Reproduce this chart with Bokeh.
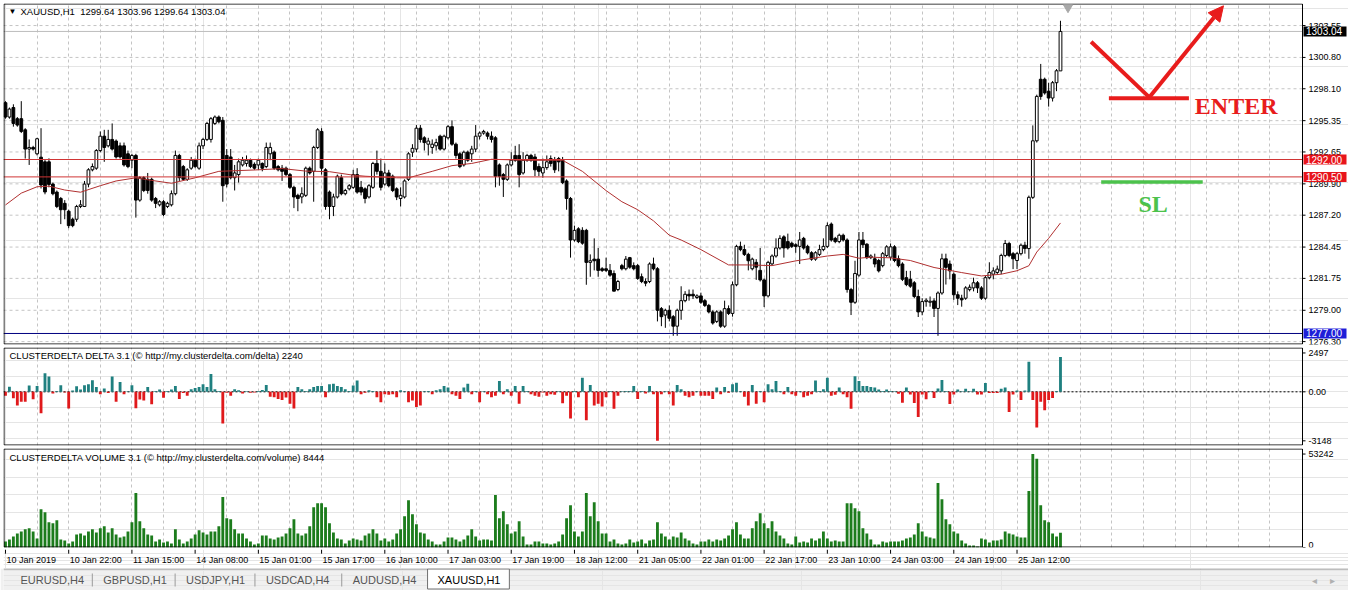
from bokeh.plotting import figure
from bokeh.layouts import column
from bokeh.models import (Range1d, FixedTicker, Label, Arrow, NormalHead,
                          ColumnDataSource, Grid)
from bokeh.embed import file_html
from bokeh.resources import INLINE
from bokeh.core.properties import value

# ---------------- data ----------------
main_title = "XAUUSD,H1\u00a0\u00a01299.64 1303.96 1299.64 1303.04"
delta_title = "CLUSTERDELTA DELTA 3.1 (\u00a9 http://my.clusterdelta.com/delta) 2240"
volume_title = "CLUSTERDELTA VOLUME 3.1 (\u00a9 http://my.clusterdelta.com/volume) 8444"

opens = [
    1296.90, 1295.66, 1296.48, 1295.52, 1295.52, 1294.56, 1292.90, 1293.04, 1292.49, 1292.20,
    1291.80, 1291.80, 1289.88, 1289.19, 1288.64, 1288.22, 1287.54, 1286.85, 1286.85, 1287.95,
    1287.95, 1289.88, 1291.11, 1291.25, 1292.77, 1294.01, 1293.18, 1293.73, 1293.59, 1293.18,
    1293.18, 1292.49, 1291.94, 1292.35, 1288.50, 1290.43, 1290.29, 1290.29, 1288.64, 1288.09,
    1288.36, 1287.95, 1288.09, 1289.05, 1292.35, 1291.39, 1290.29, 1291.25, 1291.94, 1291.25,
    1293.18, 1293.73, 1293.73, 1295.11, 1295.66, 1295.38, 1292.35, 1292.22, 1290.43, 1290.70,
    1291.53, 1291.66, 1291.94, 1291.58, 1291.53, 1291.66, 1291.39, 1292.49, 1292.63, 1291.39,
    1291.25, 1291.25, 1290.70, 1289.60, 1288.91, 1288.77, 1288.91, 1291.25, 1290.98, 1293.04,
    1294.42, 1291.11, 1289.19, 1287.95, 1288.77, 1290.43, 1289.05, 1289.47, 1289.60, 1290.70,
    1289.60, 1289.47, 1288.77, 1289.60, 1291.66, 1290.98, 1289.88, 1290.84, 1290.56, 1289.47,
    1288.64, 1288.77, 1290.29, 1292.63, 1292.90, 1294.70, 1293.87, 1293.32, 1293.04, 1293.18,
    1294.01, 1292.90, 1293.87, 1294.83, 1293.32, 1292.49, 1291.53, 1292.63, 1292.49, 1292.90,
    1294.01, 1294.28, 1294.28, 1294.01, 1293.87, 1291.53, 1290.70, 1290.29, 1291.53, 1292.35,
    1292.35, 1290.84, 1291.94, 1292.35, 1292.22, 1291.39, 1290.84, 1291.30, 1292.08, 1291.94,
    1292.08, 1291.94, 1290.15, 1288.64, 1285.06, 1286.02, 1285.89, 1285.89, 1283.13, 1283.41,
    1283.41, 1282.58, 1282.58, 1282.44, 1282.17, 1280.79, 1282.85, 1282.58, 1283.54, 1282.85,
    1282.85, 1281.89, 1281.48, 1281.48, 1282.99, 1282.58, 1279.14, 1278.59, 1279.00, 1278.45,
    1277.63, 1279.00, 1279.83, 1280.38, 1280.38, 1280.10, 1280.24, 1279.83, 1279.42, 1278.86,
    1278.04, 1278.86, 1277.63, 1279.14, 1278.73, 1281.20, 1284.51, 1284.23, 1283.82, 1282.58,
    1283.13, 1282.44, 1281.62, 1280.24, 1283.00, 1283.68, 1284.37, 1285.33, 1284.92, 1284.78,
    1284.65, 1284.51, 1285.20, 1284.51, 1283.96, 1283.41, 1283.82, 1284.23, 1284.51, 1286.43,
    1285.20, 1284.92, 1285.47, 1285.06, 1280.79, 1279.69, 1282.03, 1285.06, 1284.70, 1283.54,
    1283.44, 1283.29, 1282.85, 1283.73, 1283.58, 1284.47, 1283.44, 1282.99, 1281.81, 1281.67,
    1281.37, 1280.19, 1278.86, 1279.75, 1279.69, 1279.81, 1279.16, 1280.49, 1283.44, 1282.99,
    1282.11, 1280.34, 1280.04, 1280.04, 1280.78, 1280.93, 1281.37, 1280.93, 1280.04, 1281.81,
    1282.11, 1282.26, 1282.40, 1283.73, 1284.76, 1283.88, 1283.29, 1283.88, 1284.61, 1284.32,
    1288.74, 1293.61, 1298.92, 1298.92, 1297.89, 1297.30, 1298.62, 1299.64,
]
highs = [
    1297.03, 1296.48, 1296.76, 1295.66, 1297.03, 1294.70, 1293.73, 1293.18, 1293.87, 1294.70,
    1292.00, 1292.10, 1290.01, 1289.33, 1288.77, 1288.50, 1287.67, 1286.99, 1288.09, 1288.50,
    1290.15, 1291.25, 1291.66, 1292.90, 1294.42, 1294.56, 1294.56, 1295.11, 1293.73, 1293.46,
    1293.46, 1292.77, 1292.49, 1292.49, 1290.56, 1290.56, 1290.84, 1290.43, 1288.77, 1288.50,
    1288.50, 1288.36, 1289.33, 1292.77, 1292.49, 1291.53, 1291.25, 1292.22, 1292.08, 1293.46,
    1293.87, 1295.25, 1295.66, 1295.80, 1295.80, 1295.66, 1292.90, 1292.90, 1291.53, 1292.08,
    1292.22, 1292.35, 1292.08, 1291.75, 1292.08, 1291.75, 1293.46, 1293.46, 1292.77, 1291.53,
    1291.53, 1291.39, 1290.84, 1289.74, 1289.05, 1289.60, 1291.39, 1291.39, 1293.18, 1294.70,
    1294.70, 1291.25, 1289.33, 1289.05, 1290.70, 1290.70, 1289.47, 1289.88, 1291.11, 1291.25,
    1290.15, 1289.60, 1289.88, 1291.80, 1292.77, 1292.08, 1291.66, 1291.11, 1290.70, 1289.60,
    1289.60, 1290.29, 1292.63, 1293.32, 1294.97, 1294.97, 1294.01, 1293.87, 1293.73, 1293.79,
    1294.14, 1294.14, 1294.97, 1295.38, 1293.46, 1292.63, 1292.77, 1292.77, 1293.18, 1294.97,
    1294.42, 1294.56, 1294.42, 1294.42, 1294.01, 1291.66, 1290.84, 1291.66, 1292.63, 1293.18,
    1293.32, 1292.63, 1292.49, 1292.49, 1292.49, 1291.66, 1292.08, 1292.35, 1292.35, 1292.22,
    1292.22, 1292.22, 1290.29, 1288.77, 1286.30, 1286.16, 1286.16, 1286.02, 1283.82, 1285.20,
    1284.37, 1282.72, 1283.54, 1282.99, 1282.44, 1281.62, 1283.00, 1283.68, 1283.60, 1283.13,
    1282.99, 1282.17, 1281.75, 1283.13, 1283.54, 1282.72, 1279.28, 1279.14, 1279.42, 1278.59,
    1279.14, 1281.07, 1280.65, 1280.79, 1280.79, 1280.38, 1280.52, 1279.97, 1279.55, 1279.00,
    1279.00, 1279.00, 1279.83, 1279.42, 1281.48, 1284.65, 1284.92, 1284.65, 1283.96, 1283.54,
    1283.41, 1284.37, 1281.75, 1283.27, 1283.82, 1285.20, 1285.47, 1285.47, 1285.61, 1284.92,
    1284.78, 1285.75, 1285.33, 1284.65, 1284.09, 1284.09, 1284.65, 1285.20, 1286.57, 1286.57,
    1285.33, 1285.61, 1285.61, 1285.20, 1280.93, 1283.27, 1285.75, 1285.75, 1284.78, 1283.82,
    1283.88, 1283.44, 1284.03, 1284.61, 1284.76, 1284.61, 1283.73, 1283.14, 1282.40, 1282.40,
    1281.52, 1280.78, 1280.04, 1280.04, 1280.19, 1280.04, 1280.63, 1283.88, 1283.88, 1283.29,
    1282.26, 1280.63, 1280.34, 1281.08, 1281.22, 1281.81, 1281.52, 1281.08, 1281.96, 1283.14,
    1282.70, 1282.85, 1283.88, 1285.06, 1284.91, 1284.03, 1284.03, 1284.76, 1284.91, 1288.89,
    1294.94, 1297.59, 1300.24, 1299.06, 1298.62, 1298.77, 1299.80, 1303.96,
]
lows = [
    1295.52, 1295.52, 1294.83, 1294.83, 1294.28, 1292.08, 1291.53, 1292.77, 1292.35, 1289.50,
    1289.00, 1289.60, 1288.91, 1287.81, 1286.43, 1286.85, 1286.08, 1286.16, 1286.63, 1287.81,
    1287.90, 1289.60, 1290.98, 1291.11, 1292.63, 1291.80, 1293.04, 1292.77, 1292.08, 1292.08,
    1291.39, 1291.25, 1291.25, 1286.99, 1288.36, 1289.19, 1289.05, 1288.36, 1287.81, 1287.95,
    1287.12, 1287.81, 1287.95, 1288.91, 1290.15, 1290.15, 1290.15, 1291.11, 1291.25, 1291.11,
    1292.90, 1293.59, 1293.46, 1294.97, 1295.11, 1288.36, 1289.60, 1290.29, 1289.33, 1290.01,
    1291.39, 1291.39, 1291.25, 1291.11, 1291.11, 1290.98, 1291.25, 1291.94, 1291.11, 1290.98,
    1290.15, 1290.56, 1289.47, 1287.81, 1287.54, 1288.22, 1288.77, 1290.70, 1288.36, 1292.90,
    1290.70, 1287.67, 1286.85, 1287.12, 1288.64, 1288.91, 1288.91, 1289.33, 1289.47, 1289.05,
    1288.91, 1288.22, 1288.64, 1289.47, 1290.70, 1289.33, 1289.74, 1289.60, 1289.19, 1288.50,
    1287.95, 1288.64, 1290.15, 1292.22, 1292.63, 1293.46, 1292.77, 1292.35, 1292.49, 1292.77,
    1292.77, 1292.77, 1293.73, 1293.18, 1292.08, 1291.25, 1291.39, 1291.80, 1291.80, 1292.63,
    1293.73, 1294.14, 1293.73, 1293.46, 1289.60, 1289.74, 1288.77, 1290.15, 1291.39, 1291.80,
    1289.60, 1290.70, 1291.80, 1291.80, 1290.56, 1290.56, 1290.43, 1291.11, 1291.39, 1290.84,
    1290.98, 1289.88, 1287.67, 1283.54, 1284.92, 1284.79, 1284.65, 1281.20, 1281.89, 1282.44,
    1281.89, 1282.30, 1282.30, 1281.89, 1280.65, 1280.65, 1282.44, 1282.44, 1282.58, 1282.44,
    1281.62, 1281.34, 1281.07, 1281.34, 1282.44, 1278.04, 1277.63, 1277.49, 1278.04, 1276.80,
    1276.80, 1278.18, 1279.69, 1279.83, 1279.97, 1279.97, 1279.55, 1279.28, 1278.73, 1277.76,
    1277.90, 1277.49, 1277.49, 1278.59, 1278.45, 1281.07, 1284.09, 1283.68, 1282.44, 1282.44,
    1281.62, 1281.48, 1279.28, 1280.10, 1282.86, 1283.54, 1284.23, 1283.54, 1284.23, 1284.37,
    1283.96, 1282.99, 1284.23, 1283.82, 1283.27, 1283.27, 1283.68, 1284.09, 1284.37, 1284.92,
    1284.78, 1284.78, 1284.92, 1280.52, 1278.59, 1279.55, 1281.89, 1284.37, 1283.41, 1283.41,
    1282.70, 1282.26, 1282.70, 1283.58, 1283.29, 1283.14, 1282.70, 1281.52, 1281.08, 1280.93,
    1280.04, 1278.42, 1278.57, 1279.31, 1279.31, 1278.42, 1276.80, 1280.34, 1281.22, 1281.67,
    1279.90, 1279.45, 1279.31, 1279.90, 1280.63, 1280.63, 1280.49, 1279.90, 1279.90, 1281.67,
    1281.67, 1282.11, 1282.11, 1283.58, 1283.58, 1282.55, 1282.55, 1283.73, 1283.88, 1283.44,
    1288.60, 1293.46, 1297.15, 1297.59, 1296.56, 1297.00, 1297.89, 1299.64,
]
closes = [
    1295.66, 1296.35, 1295.11, 1294.97, 1294.42, 1292.90, 1293.04, 1292.90, 1293.79, 1289.80,
    1289.20, 1289.85, 1289.05, 1287.95, 1287.67, 1287.67, 1286.30, 1286.30, 1287.95, 1288.09,
    1289.88, 1291.11, 1291.39, 1292.77, 1294.01, 1293.04, 1293.73, 1292.90, 1292.22, 1292.22,
    1291.53, 1291.39, 1292.35, 1288.50, 1290.43, 1289.33, 1289.33, 1288.50, 1288.22, 1288.36,
    1287.26, 1288.22, 1289.05, 1292.35, 1290.43, 1290.29, 1291.11, 1291.94, 1291.39, 1293.18,
    1293.73, 1295.11, 1295.52, 1295.66, 1295.25, 1289.74, 1289.88, 1290.43, 1290.84, 1291.80,
    1291.94, 1291.94, 1291.39, 1291.25, 1291.94, 1291.25, 1293.04, 1293.04, 1291.25, 1291.11,
    1290.98, 1290.70, 1289.60, 1288.77, 1288.64, 1289.05, 1291.25, 1290.84, 1293.04, 1294.56,
    1291.25, 1287.95, 1287.95, 1288.77, 1290.56, 1289.05, 1289.33, 1289.74, 1290.70, 1289.19,
    1289.19, 1288.64, 1289.74, 1291.66, 1290.98, 1289.60, 1290.84, 1289.74, 1289.33, 1288.77,
    1288.91, 1290.15, 1292.49, 1292.96, 1294.70, 1293.73, 1293.46, 1293.59, 1293.32, 1293.46,
    1292.90, 1294.01, 1294.83, 1293.32, 1292.35, 1291.39, 1292.63, 1291.94, 1292.90, 1294.01,
    1294.28, 1294.42, 1294.01, 1293.73, 1290.56, 1290.56, 1290.29, 1291.53, 1291.94, 1291.94,
    1290.70, 1291.94, 1292.35, 1291.94, 1291.11, 1290.98, 1291.30, 1291.80, 1291.66, 1291.11,
    1291.80, 1290.01, 1288.64, 1285.06, 1285.89, 1284.92, 1284.79, 1283.13, 1283.27, 1283.27,
    1282.44, 1282.44, 1282.44, 1282.03, 1280.65, 1281.48, 1282.58, 1283.41, 1282.72, 1282.58,
    1281.75, 1281.48, 1281.34, 1282.99, 1282.58, 1279.00, 1278.45, 1279.00, 1278.31, 1277.63,
    1279.00, 1279.83, 1280.38, 1280.24, 1280.24, 1280.24, 1279.69, 1279.42, 1278.86, 1277.90,
    1278.86, 1277.63, 1279.14, 1278.73, 1281.20, 1284.51, 1284.23, 1283.82, 1283.27, 1283.41,
    1282.72, 1281.62, 1280.24, 1283.13, 1283.68, 1284.37, 1285.20, 1284.37, 1284.37, 1284.51,
    1284.51, 1285.06, 1284.37, 1283.96, 1283.41, 1283.96, 1284.23, 1284.51, 1286.30, 1285.06,
    1284.92, 1285.47, 1285.06, 1280.79, 1279.69, 1282.17, 1285.06, 1284.65, 1283.54, 1283.68,
    1282.99, 1282.40, 1283.88, 1284.47, 1284.47, 1283.29, 1282.85, 1281.67, 1281.22, 1281.08,
    1280.19, 1278.86, 1279.75, 1279.87, 1279.78, 1279.16, 1280.49, 1283.44, 1282.70, 1282.40,
    1280.34, 1280.04, 1279.90, 1280.93, 1280.99, 1281.37, 1280.93, 1280.04, 1281.81, 1282.26,
    1282.40, 1282.55, 1283.73, 1284.76, 1283.73, 1283.44, 1283.88, 1284.61, 1284.32, 1288.74,
    1293.61, 1297.44, 1297.44, 1297.74, 1297.30, 1298.62, 1299.65, 1303.04,
]

# moving average line (knots: bar index, value)
ma_bars = [0, 4, 8, 11, 15, 19, 24, 28, 33, 37, 42, 48, 54, 64, 70, 76, 82, 88, 91, 99,
           102, 108, 113, 118, 123, 132, 141, 146, 152, 156, 160, 164, 168, 171, 176, 183,
           188, 194, 200, 208, 212, 216, 219, 224, 229, 235, 242, 247, 252, 256, 259, 261,
           264, 267]
ma_values = [1288.08, 1289.10, 1289.65, 1289.70, 1289.37, 1289.18, 1289.74, 1290.15, 1290.42,
             1290.20, 1289.95, 1290.42, 1290.98, 1291.11, 1291.22, 1291.00, 1290.95, 1290.65,
             1290.56, 1290.42, 1290.42, 1290.98, 1291.47, 1291.66, 1292.02, 1291.93, 1291.93,
             1290.98, 1289.32, 1288.36, 1287.67, 1286.71, 1285.47, 1285.06, 1284.23, 1282.91,
             1282.91, 1282.85, 1283.26, 1283.68, 1283.82, 1283.49, 1283.58, 1283.52, 1283.29,
             1282.69, 1282.25, 1281.96, 1282.11, 1282.41, 1282.84, 1284.02, 1285.20, 1286.53]

delta = [
    -250, 330, -420, -880, -630, -640, 400, -470, 370, -1380,
    1190, 980, -110, 60, 420, -40, -1070, 80, 360, 150,
    420, 480, 750, 310, -150, 210, -70, 980, -630, 630,
    -150, 40, 420, -1050, -500, -560, 310, -800, 60, 150,
    -380, 50, 150, 380, -460, -80, -250, 170, 250, 310,
    480, 310, 1150, 170, 60, -2030, -60, -250, 170, 100,
    -100, 40, -60, -40, 60, 120, 440, -310, -350, -460,
    -520, -360, -760, -1070, 310, 170, 60, 170, 310, 380,
    380, -350, 480, 520, 380, 310, 170, 60, 400, 730,
    -150, -60, 100, 60, -350, -670, -150, -190, -150, -350,
    100, 40, -670, -560, -980, -880, 40, 60, -150, 100,
    170, 380, 270, -150, -250, -460, 270, 520, -150, 60,
    -670, 40, -150, -350, -250, 690, -150, 170, -250, 380,
    -770, 380, 60, -150, -250, -310, -40, -250, -150, -190,
    40, -730, -250, -1710, 60, -350, 900, -1820, 440, -880,
    -770, -940, -350, 60, -1090, -250, 40, 60, 60, 380,
    -460, 60, -100, 380, -150, -3148, -150, 40, -150, -880,
    440, 170, -250, -350, -250, 40, -250, -250, -250, -460,
    270, -150, 310, -60, 480, 580, 40, -310, -880, 440,
    -770, 60, -670, 480, 170, 690, 60, -150, 310, -150,
    -250, 40, -350, -250, -150, 730, 60, 170, 900, -250,
    -190, 270, -150, -350, -1090, 1000, 690, 380, 380, 310,
    270, 150, 60, 150, 60, 40, -130, -700, 270, -180,
    -720, -1620, -180, -470, 40, -400, 220, 760, 60, -780,
    -180, 150, 40, 200, 40, 200, -180, -180, 560, -70,
    -70, -70, 200, 270, -1300, -180, 90, -520, 90, 1930,
    -520, -2290, -630, -1190, -520, -400, 60, 2240,
]

volume = [
    3440, 4590, 6310, 8040, 9180, 10330, 10910, 9180, 5170, 21810,
    20090, 14350, 13780, 15500, 4590, 4020, 2300, 3440, 7460, 8040,
    6890, 9180, 10330, 8610, 10910, 12050, 8610, 10910, 7460, 5740,
    6310, 9180, 14350, 31000, 14920, 10910, 7460, 6890, 3440, 4590,
    2870, 3440, 2300, 10330, 4590, 2300, 3440, 5170, 7460, 9760,
    8610, 7460, 9180, 9180, 12050, 28700, 16650, 16070, 10330, 8040,
    8040, 5170, 3440, 1720, 2300, 6890, 6890, 5170, 4590, 5740,
    6310, 8040, 10910, 16070, 8040, 6890, 8040, 12050, 22960, 25260,
    25260, 22960, 13780, 8610, 5170, 4590, 2300, 4020, 5170, 4590,
    4020, 6890, 8040, 10330, 8040, 4020, 5170, 3440, 4590, 8040,
    10330, 17790, 26980, 18940, 13200, 8610, 8040, 4590, 3440, 1720,
    1720, 3440, 5740, 5740, 4590, 3440, 4590, 6890, 10330, 6310,
    4020, 4590, 4590, 4020, 29850, 16650, 20660, 13200, 8040, 9180,
    14920, 6310, 1720, 1720, 3440, 3440, 2300, 2300, 1720, 2300,
    3440, 7460, 16650, 24110, 9180, 6310, 9180, 31000, 17790, 25830,
    14920, 8040, 8040, 3440, 4590, 2300, 1720, 2300, 4590, 2870,
    3440, 4590, 2300, 4020, 4590, 14350, 8040, 6310, 4590, 6310,
    5740, 8610, 5170, 4020, 2300, 1720, 3440, 3440, 4590, 3440,
    4590, 4020, 5170, 6890, 10330, 14350, 7460, 5170, 5170, 10910,
    14920, 19520, 13780, 10910, 14920, 9180, 6890, 5170, 2300, 1720,
    6310, 2870, 3440, 2870, 5170, 4020, 5170, 9180, 5170, 3440,
    4020, 3440, 3440, 25260, 25260, 22390, 20660, 10910, 8040, 4590,
    1720, 1720, 3440, 2870, 3440, 3440, 3440, 4020, 5170, 5740,
    7460, 13780, 9180, 6310, 5740, 5170, 36740, 27550, 16070, 13200,
    9180, 8040, 4020, 2300, 1150, 1150, 570, 5170, 4590, 2870,
    4020, 4020, 4590, 9180, 8040, 7460, 6310, 5740, 5740, 32140,
    53242, 50510, 24110, 15500, 14350, 8040, 6310, 8444,
]

price_ticks = [1276.30, 1279.00, 1281.75, 1284.45, 1287.20, 1289.90,
               1292.65, 1295.35, 1298.10, 1300.80, 1303.55]
price_tick_labels = ["1276.30", "1279.00", "1281.75", "1284.45", "1287.20", "1289.90",
                     "1292.65", "1295.35", "1298.10", "1300.80", "1303.55"]
delta_ticks = [-3148, 0, 2497]
delta_tick_labels = ["-3148", "0.00", "2497"]
volume_ticks = [0, 53242]
volume_tick_labels = ["0", "53242"]

time_label_bars = [0, 16, 32, 48, 64, 80, 96, 112, 128, 144, 160, 176, 192, 208, 224, 240, 256]
time_labels = ["10 Jan 2019", "10 Jan 22:00", "11 Jan 15:00", "14 Jan 08:00", "15 Jan 01:00",
               "15 Jan 17:00", "16 Jan 10:00", "17 Jan 03:00", "17 Jan 19:00", "18 Jan 12:00",
               "21 Jan 05:00", "22 Jan 01:00", "22 Jan 17:00", "23 Jan 10:00", "24 Jan 03:00",
               "24 Jan 19:00", "25 Jan 12:00"]
grid_bars = list(range(8, 328, 8))

bid_price = 1303.04
level_prices = [1292.00, 1290.50]
support_price = 1277.00

tab_names = ["EURUSD,H4", "GBPUSD,H1", "USDJPY,H1", "USDCAD,H4", "AUDUSD,H4", "XAUUSD,H1"]

# ---------------- layout / style ----------------
W = 1348
LB, RB = 3, 46
X_START, X_END = -0.5, 328.25
FRAME_W = W - LB              # frame incl. price-scale strip
CHART_W = FRAME_W - RB        # chart area
PPB = CHART_W / (X_END - X_START)
X_FULL = X_START + FRAME_W / PPB
FONT = "Liberation Sans"
GRID_COLOR = "#C4C4C4"
GRID_DASH = "3 3"
RED_LINE = "#D03535"
RED_BOX = "#E8141B"
ARROW_RED = "#E81C1C"
SL_GREEN = "#4CC24C"

xr = Range1d(X_START, X_FULL)


def bars(px):
    return px / PPB


def make_panel(height, y0, y1, top, bottom):
    f = figure(width=W, height=height, x_range=xr, y_range=Range1d(y0, y1),
               output_backend="svg", toolbar_location=None,
               x_axis_location=None, y_axis_location=None,
               min_border_left=LB, min_border_right=0,
               min_border_top=top, min_border_bottom=bottom,
               background_fill_color="white", border_fill_color="white",
               outline_line_color=None)
    f.add_layout(Grid(dimension=0, ticker=FixedTicker(ticks=grid_bars),
                      grid_line_color=GRID_COLOR, grid_line_dash=GRID_DASH))
    return f


def frame_and_scale(f, y0, y1, ppu, ticks, labels, baselines):
    # chart frame (stops at the price-scale strip)
    f.quad(left=[X_START + bars(0.5)], right=[X_END], bottom=[y0 + 0.5 / ppu],
           top=[y1 - 0.5 / ppu], fill_color=None, line_color="black", line_width=1)
    # right scale: tick marks and labels
    f.segment(x0=[X_END] * len(ticks), x1=[X_END + bars(3)] * len(ticks), y0=ticks, y1=ticks,
              line_color="black", line_width=1)
    f.text(x=[X_END + bars(6)] * len(ticks), y=ticks, text=labels,
           text_font=value(FONT), text_font_size="9px", text_color="black",
           text_align="left", text_baseline=baselines)


# ---------------- main price panel ----------------
H_MAIN, MT, MB = 346, 3, 2
P_LO, P_HI = 1276.05, 1305.45
main = make_panel(H_MAIN, P_LO, P_HI, MT, MB)
PPU = (H_MAIN - MT - MB) / (P_HI - P_LO)

# horizontal grid
main.segment(x0=[X_START] * len(price_ticks), x1=[X_END] * len(price_ticks),
             y0=price_ticks, y1=price_ticks, line_color=GRID_COLOR, line_dash=GRID_DASH)

n = min(len(opens), len(highs), len(lows), len(closes))
cs = ColumnDataSource(dict(
    x=list(range(n)),
    high=highs[:n], low=lows[:n],
    top=[max(o, c) for o, c in zip(opens[:n], closes[:n])],
    bottom=[min(o, c) for o, c in zip(opens[:n], closes[:n])],
    fill=["white" if c >= o else "black" for o, c in zip(opens[:n], closes[:n])],
))

main.segment(x0=[X_START], x1=[X_END], y0=[bid_price], y1=[bid_price],
             line_color="#BDBDBD", line_width=1)
main.segment(x0="x", y0="low", x1="x", y1="high", source=cs, line_color="black", line_width=1)
main.vbar(x="x", width=0.7, top="top", bottom="bottom", fill_color="fill",
          line_color="black", line_width=1, source=cs)
main.line(ma_bars, ma_values, line_color="#B03030", line_width=1)

main.segment(x0=[X_START] * 2, x1=[X_END] * 2, y0=level_prices, y1=level_prices,
             line_color=RED_LINE, line_width=1)
main.segment(x0=[X_START], x1=[X_END], y0=[support_price], y1=[support_price],
             line_color="#000080", line_width=1)

frame_and_scale(main, P_LO, P_HI, PPU, price_ticks, price_tick_labels, "middle")

# price boxes on the right scale
box_vals = [bid_price, level_prices[0], level_prices[1], support_price]
box_cols = ["black", RED_BOX, RED_BOX, "#1E1ED8"]
main.quad(left=[X_END + bars(1)] * 4, right=[X_END + bars(44)] * 4,
          bottom=[v - 5 / PPU for v in box_vals], top=[v + 5 / PPU for v in box_vals],
          fill_color=box_cols, line_color=None)
main.text(x=[X_END + bars(3.5)] * 4, y=box_vals, text=[f"{v:.2f}" for v in box_vals],
          text_font=value(FONT), text_font_size="10px", text_color="white",
          text_align="left", text_baseline="middle")

# chart-shift marker
main.scatter([268.9], [P_HI - 4 / PPU], marker="inverted_triangle", size=9,
             fill_color="#A8A8A8", line_color="#A8A8A8")

# drawn trade annotation
main.line([274.75, 289.5], [1302.15, 1297.36], line_color=ARROW_RED, line_width=4)
main.add_layout(Arrow(end=NormalHead(size=15, fill_color=ARROW_RED, line_color=ARROW_RED),
                      x_start=289.5, y_start=1297.36, x_end=308.25, y_end=1305.25,
                      line_color=ARROW_RED, line_width=4))
main.line([279.25, 299.5], [1297.28, 1297.28], line_color=ARROW_RED, line_width=4)
main.text(x=[301.0], y=[1296.62], text=["ENTER"], text_font=value("Liberation Serif"),
          text_font_style="bold", text_font_size="24px", text_color=ARROW_RED,
          text_baseline="alphabetic", text_align="left")
main.line([277.3, 303.0], [1290.07, 1290.07], line_color=SL_GREEN, line_width=3.5)
main.text(x=[286.75], y=[1288.19], text=["SL"], text_font=value("Liberation Serif"),
          text_font_style="bold", text_font_size="24px", text_color=SL_GREEN,
          text_baseline="alphabetic", text_align="left")

# title
main.add_layout(Label(x=X_START + bars(5), y=P_HI - 7.5 / PPU, text="\u25bc",
                      text_font=FONT, text_font_size="8px", text_color="black",
                      text_baseline="middle", text_align="left"))
main.add_layout(Label(x=X_START + bars(17), y=P_HI - 7.5 / PPU, text=main_title,
                      text_font=FONT, text_font_size="9.5px", text_color="black",
                      text_baseline="middle", text_align="left"))

# ---------------- delta panel ----------------
H_D, DT, DB = 101, 1, 2
D_LO, D_HI = -3449, 2848
dp = make_panel(H_D, D_LO, D_HI, DT, DB)
PPU_D = (H_D - DT - DB) / (D_HI - D_LO)
dp.segment(x0=[X_START], x1=[X_END], y0=[0], y1=[0], line_color="black",
           line_width=1, line_dash="2 2")
ds = ColumnDataSource(dict(x=list(range(len(delta))), v=delta,
                           c=["#1F8080" if v >= 0 else "#E0191B" for v in delta]))
dp.vbar(x="x", width=0.72, top="v", bottom=0, fill_color="c", line_color=None, source=ds)
frame_and_scale(dp, D_LO, D_HI, PPU_D, delta_ticks, delta_tick_labels, "middle")
dp.add_layout(Label(x=X_START + bars(6), y=D_HI - 8 / PPU_D, text=delta_title,
                    text_font=FONT, text_font_size="9.5px", text_color="black",
                    text_baseline="middle", text_align="left"))

# ---------------- volume panel ----------------
H_V, VT, VB = 102, 1, 2
V_LO, V_HI = 0, 56400
vp = make_panel(H_V, V_LO, V_HI, VT, VB)
PPU_V = (H_V - VT - VB) / (V_HI - V_LO)
vs = ColumnDataSource(dict(x=list(range(len(volume))), v=volume))
vp.vbar(x="x", width=0.72, top="v", bottom=0, fill_color="#1C7C1C", line_color=None, source=vs)
frame_and_scale(vp, V_LO, V_HI, PPU_V, volume_ticks, volume_tick_labels, ["bottom", "middle"])
vp.add_layout(Label(x=X_START + bars(6), y=V_HI - 9 / PPU_V, text=volume_title,
                    text_font=FONT, text_font_size="9.5px", text_color="black",
                    text_baseline="middle", text_align="left"))

# ---------------- time labels ----------------
xl = figure(width=W, height=19, x_range=xr, y_range=Range1d(0, 1),
            output_backend="svg", toolbar_location=None,
            x_axis_location=None, y_axis_location=None,
            min_border_left=LB, min_border_right=0, min_border_top=0, min_border_bottom=0,
            background_fill_color="white", border_fill_color="white", outline_line_color=None)
xl.segment(x0=time_label_bars, x1=time_label_bars, y0=[1.0] * len(time_label_bars),
           y1=[0.78] * len(time_label_bars), line_color="black", line_width=1)
xl.text(x=time_label_bars, y=[0.45] * len(time_label_bars), text=time_labels,
        text_font=value(FONT), text_font_size="9px", text_color="black",
        text_align="left", text_baseline="middle", x_offset=1)

# ---------------- tab bar ----------------
TAB_H = 22
tab_text_x = [17, 100, 183, 263, 350, 435]
tab_sep_x = [89, 172, 252, 339]
tb = figure(width=W, height=TAB_H, x_range=Range1d(0, W), y_range=Range1d(0, TAB_H),
            output_backend="svg", toolbar_location=None,
            x_axis_location=None, y_axis_location=None, min_border=0,
            background_fill_color="#F0F0F0", border_fill_color="#F0F0F0",
            outline_line_color=None)
tb.segment(x0=[0], x1=[W], y0=[TAB_H - 0.5], y1=[TAB_H - 0.5], line_color="#8A8A8A", line_width=1)
tb.quad(left=[425], right=[507], bottom=[1.5], top=[TAB_H - 0.5], fill_color="white",
        line_color="#707070", line_width=1)
tb.segment(x0=tab_sep_x, x1=tab_sep_x, y0=[4] * 4, y1=[17] * 4, line_color="#9A9A9A", line_width=1)
tb.text(x=tab_text_x, y=[10.5] * len(tab_names), text=tab_names, text_font=value(FONT),
        text_font_size="11px", text_align="left", text_baseline="middle",
        text_color=["#555555"] * 5 + ["black"])
tb.text(x=[W - 34, W - 16], y=[10.5, 10.5], text=["\u25c2", "\u25b8"], text_font=value("DejaVu Sans"),
        text_font_size="10px", text_align="center", text_baseline="middle", text_color="#B0B0B0")

layout = column(main, dp, vp, xl, tb, spacing=0)
open("out.html", "w").write(file_html(layout, INLINE))
